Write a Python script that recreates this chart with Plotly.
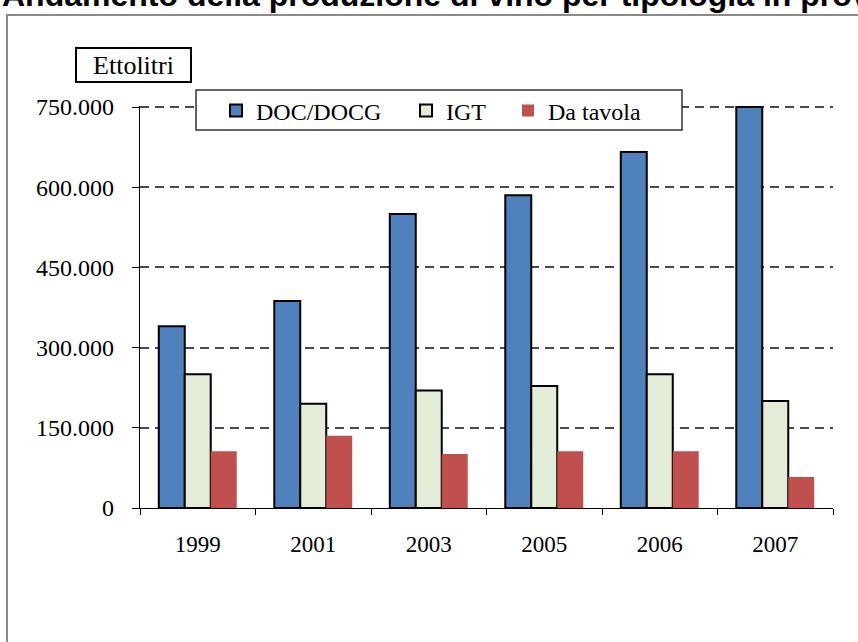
import plotly.graph_objects as go

# Wine production by type (hectolitres)
years = ["1999", "2001", "2003", "2005", "2006", "2007"]
doc_docg = [340000, 387000, 550000, 585000, 666000, 750000]
igt = [250000, 195000, 220000, 228000, 250000, 200000]
da_tavola = [106000, 135000, 101000, 106000, 106000, 58000]

series_names = ["DOC/DOCG", "IGT", "Da tavola"]
y_ticks = [0, 150000, 300000, 450000, 600000, 750000]
y_max = 752000  # a little headroom so the 750.000 gridline is drawn

W, H = 858, 642
L, R, T, B = 140, 25, 106, 134
PW, PH = W - L - R, H - T - B


def px(x):
    return (x - L) / PW


def py(y):
    return (H - B - y) / PH


serif = "Liberation Serif, Times New Roman, serif"

fig = go.Figure()
fig.add_trace(go.Bar(
    x=years, y=doc_docg, name=series_names[0], legend="legend",
    marker=dict(color="#4F81BD", line=dict(color="#000000", width=2)),
))
fig.add_trace(go.Bar(
    x=years, y=igt, name=series_names[1], legend="legend2",
    marker=dict(color="#E3ECD6", line=dict(color="#000000", width=2)),
))
fig.add_trace(go.Bar(
    x=years, y=da_tavola, name=series_names[2], legend="legend3",
    marker=dict(color="#C0504D", line=dict(width=0)),
))

leg_common = dict(
    orientation="h", bgcolor="rgba(0,0,0,0)", borderwidth=0,
    font=dict(family=serif, size=24, color="#000000"),
    yanchor="middle", xanchor="left", y=py(111),
)

fig.update_layout(
    width=W, height=H,
    margin=dict(l=L, r=R, t=T, b=B, pad=0),
    paper_bgcolor="white", plot_bgcolor="white",
    separators=",.",
    barmode="group", bargap=0.325, bargroupgap=0,
    showlegend=True,
    legend=dict(x=px(257 - 41), **leg_common),
    legend2=dict(x=px(447 - 41), **leg_common),
    legend3=dict(x=px(549 - 41), **leg_common),
    xaxis=dict(
        type="category", showline=True, linecolor="#000000", linewidth=1.3,
        ticks="outside", tickson="boundaries", ticklen=6, tickcolor="#000000",
        tickwidth=1.3, showgrid=False, ticklabelstandoff=15,
        tickfont=dict(family=serif, size=23, color="#000000"),
    ),
    yaxis=dict(
        range=[0, y_max], tickvals=y_ticks, tickformat=",.0f",
        showline=True, linecolor="#000000", linewidth=1.3,
        ticks="outside", ticklen=7, tickcolor="#000000", tickwidth=1.3,
        showgrid=True, gridcolor="#4a4a4a", gridwidth=1.5, griddash="9px,6px",
        zeroline=False, ticklabelstandoff=13,
        tickfont=dict(family=serif, size=24, color="#000000"),
    ),
    shapes=[
        # outer chart frame
        dict(type="rect", xref="paper", yref="paper",
             x0=px(7), x1=px(880), y0=py(680), y1=py(15),
             line=dict(color="#8a8a8a", width=2), layer="above"),
        # legend box
        dict(type="rect", xref="paper", yref="paper",
             x0=px(196), x1=px(682), y0=py(130), y1=py(90),
             fillcolor="white", line=dict(color="#333333", width=1.5),
             layer="above"),
    ],
    annotations=[
        dict(text="<b>Andamento della produzione di vino per tipologia in provincia</b>",
             xref="paper", yref="paper", x=px(0), y=py(15),
             xanchor="left", yanchor="bottom", showarrow=False,
             font=dict(family="Liberation Sans, Arial, sans-serif", size=32,
                       color="#000000")),
        dict(text="Ettolitri", xref="paper", yref="paper",
             x=px(133.5), y=py(65), xanchor="center", yanchor="middle",
             showarrow=False, width=111, height=30, borderpad=1,
             bordercolor="#000000", borderwidth=2, bgcolor="white",
             font=dict(family=serif, size=26, color="#000000")),
    ],
)

fig.write_html("out.html")
